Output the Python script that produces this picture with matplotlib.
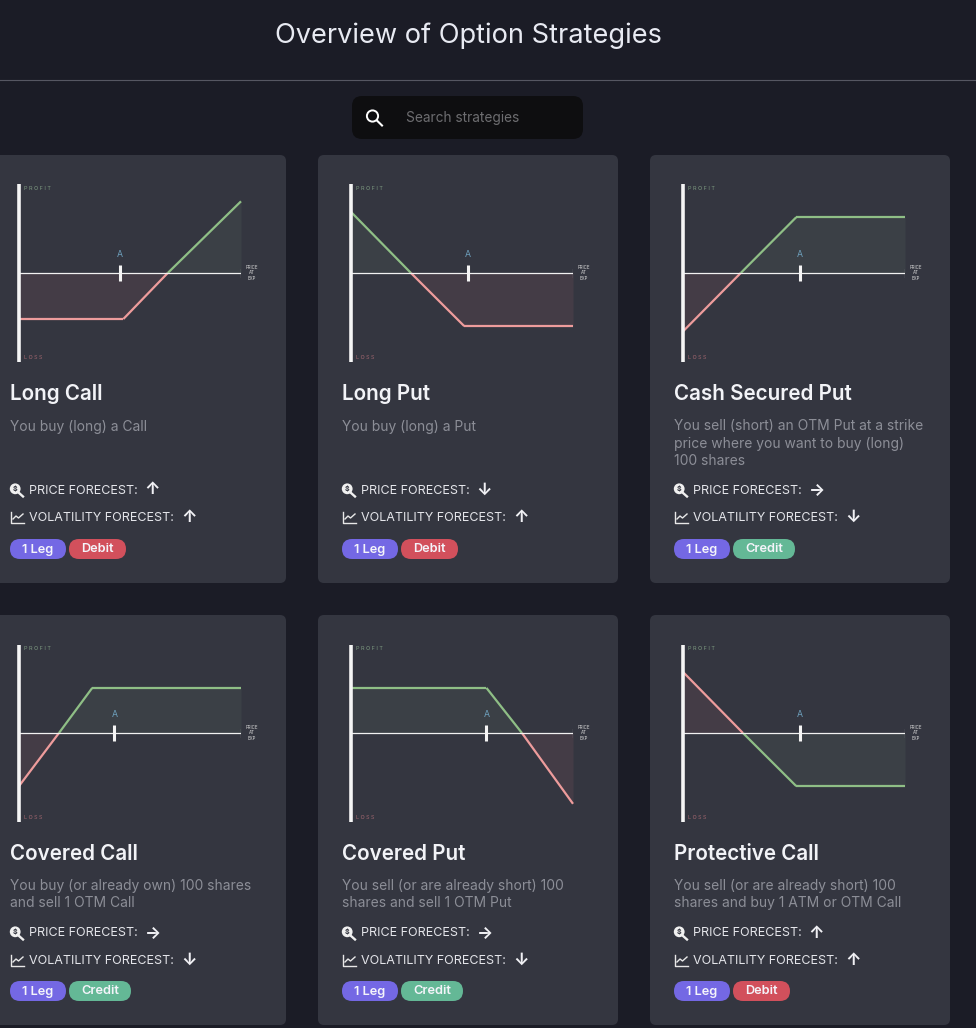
import matplotlib
matplotlib.use("Agg")
import matplotlib.pyplot as plt
from matplotlib.patches import FancyBboxPatch, Circle

W, H = 976, 1028
BG = "#1b1c26"
CARD = "#343640"
FONT = ["Inter", "DejaVu Sans"]

names = ["Long Call", "Long Put", "Cash Secured Put", "Covered Call", "Covered Put", "Protective Call"]
descriptions = [
    "You buy (long) a Call",
    "You buy (long) a Put",
    "You sell (short) an OTM Put at a strike\nprice where you want to buy (long)\n100 shares",
    "You buy (or already own) 100 shares\nand sell 1 OTM Call",
    "You sell (or are already short) 100\nshares and sell 1 OTM Put",
    "You sell (or are already short) 100\nshares and buy 1 ATM or OTM Call",
]
price_forecast = ["↑", "↓", "→", "→", "→", "↑"]
vol_forecast = ["↑", "↑", "↓", "↓", "↓", "↑"]
legs = ["1 Leg"] * 6
kinds = ["Debit", "Debit", "Credit", "Credit", "Credit", "Debit"]

payoff_x = [
    [0, 47, 67, 100],
    [0, 27, 51, 100],
    [0, 26, 51, 100],
    [0, 18, 33, 100],
    [0, 61, 77, 100],
    [0, 27, 51, 100],
]
payoff_y = [
    [-52, -52, 0, 81],
    [69, 0, -60, -60],
    [-66, 0, 63, 63],
    [-60, 0, 51, 51],
    [51, 51, 0, -80],
    [69, 0, -60, -60],
]
strikes = [45.5, 52.7, 52.7, 43, 61, 52.7]
# Protective Call is drawn in the reference with its colours swapped
colours_swapped = [False, False, False, False, False, True]

fig = plt.figure(figsize=(W / 100, H / 100), dpi=100, facecolor=BG)
page = fig.add_axes([0, 0, 1, 1])
page.set_xlim(0, W)
page.set_ylim(H, 0)
page.axis("off")


def label(x, y, s, size, color, weight="normal", ha="left", **kw):
    page.text(x, y + 1.5, s, fontsize=size * 0.72, color=color, weight=weight, ha=ha,
              va="center", family=FONT, **kw)


def rbox(x0, y0, x1, y1, r, color, z=1):
    page.add_patch(FancyBboxPatch((x0 + r, y0 + r), x1 - x0 - 2 * r, y1 - y0 - 2 * r,
                                  boxstyle=f"round,pad={r},rounding_size={r}",
                                  fc=color, ec="none", zorder=z))


# header
label(468, 34.5, "Overview of Option Strategies", 27.2, "#e8eaf2", ha="center")
page.plot([0, W], [79.5, 79.5], color="#565762", lw=0.8)
rbox(352, 96, 583, 139, 10, "#0e0e10")
page.add_patch(Circle((372.5, 116), 5.6, fc="none", ec="white", lw=1.4, zorder=3))
page.plot([376.8, 382], [120.4, 125.5], color="white", lw=1.5, zorder=3)
label(406, 116.5, "Search strategies", 13.7, "#6d6d70")

col_left = [-14, 318, 650]
row_top = [155, 615]
row_bot = [583, 1025]
forecast_y = [(490, 517, 549), (933, 960, 991)]
desc_y = [425, 884.5]

for i in range(6):
    r, c = i // 3, i % 3
    left = col_left[c]
    top = row_top[r]
    rbox(left, top, left + 300, row_bot[r], 6, CARD)
    tx = left + 24

    # payoff diagram
    ax_left = left + 33
    ax_top = top + 29.5
    ax_w, ax_h = 222, 177
    ax = fig.add_axes([ax_left / W, 1 - (ax_top + ax_h) / H, ax_w / W, ax_h / H])
    ax.set_xlim(0, 100)
    ax.set_ylim(-100, 100)
    ax.axis("off")
    ax.patch.set_alpha(0)
    xs, ys = payoff_x[i], payoff_y[i]
    swap = colours_swapped[i]
    line_up, line_dn = ("#ee9c9c", "#8fbf86") if swap else ("#8fbf86", "#ee9c9c")
    fill_up, fill_dn = ("#443c46", "#3b4046") if swap else ("#3b4046", "#443c46")
    ax.fill_between(xs, ys, 0, where=[y >= 0 for y in ys], color=fill_up, lw=0, zorder=1)
    ax.fill_between(xs, ys, 0, where=[y <= 0 for y in ys], color=fill_dn, lw=0, zorder=1)
    for k in range(len(xs) - 1):
        seg_x, seg_y = xs[k:k + 2], ys[k:k + 2]
        ax.plot(seg_x, seg_y, color=line_up if sum(seg_y) > 0 else line_dn, lw=1.6,
                solid_capstyle="butt", zorder=3, clip_on=False)
    ax.axhline(0, color="#f2f2f2", lw=0.9, zorder=4)
    ax.plot([0, 0], [-100, 100], color="#f5f5f5", lw=2.6, zorder=5, solid_capstyle="butt", clip_on=False)
    ax.plot([100, 100], [-5, 5], color="#f2f2f2", lw=0.8, zorder=4)
    ax.plot([strikes[i]] * 2, [-9, 9], color="#f5f5f5", lw=2.2, zorder=5, solid_capstyle="butt")
    ax.text(strikes[i], 21, "A", fontsize=6.3, color="#6fa3c0", ha="center", va="center", family=FONT)
    ax.text(2.3, 95.5, "P R O F I T", fontsize=3.9, color="#7d9a80", va="center", family=FONT)
    ax.text(2.3, -96, "L O S S", fontsize=3.9, color="#a0666f", va="center", family=FONT)
    ax.text(105, 0, "PRICE\nAT\nEXP", fontsize=3.2, color="#d8d8d8", ha="center", va="center",
            linespacing=1.05, family=FONT)

    # title and description
    label(tx, top + 237, names[i], 20.6, "#f2f3f7", weight="semibold")
    for n, line in enumerate(descriptions[i].split("\n")):
        label(tx, desc_y[r] + n * 17.3, line, 13.85, "#8c8e97")

    fy, vy, tag_y = forecast_y[r]
    # magnifier icon
    page.add_patch(Circle((tx + 5.2, fy - 1.2), 5.4, fc="#f0f0f0", ec="none", zorder=3))
    page.plot([tx + 8.5, tx + 13], [fy + 2.5, fy + 6.5], color="#f0f0f0", lw=1.7, zorder=3)
    page.text(tx + 5.2, fy - 1.2, "$", fontsize=5, color=CARD, ha="center", va="center", zorder=4,
              family=FONT, weight="bold")
    label(tx + 19, fy - 1, "PRICE FORECEST:", 12.5, "#e4e5ea")
    label(tx + 134.5, fy - 1.5, price_forecast[i], 17, "#f0f0f4", weight="bold")
    # chart icon
    page.plot([tx + 1, tx + 1, tx + 14], [vy - 5.5, vy + 5.5, vy + 5.5], color="#e8e8e8", lw=1.0, zorder=3)
    page.plot([tx + 3, tx + 6, tx + 8.5, tx + 13], [vy + 2, vy - 1, vy + 1, vy - 3],
              color="#e8e8e8", lw=1.0, zorder=3)
    label(tx + 19, vy - 0.5, "VOLATILITY FORECEST:", 12.5, "#e4e5ea")
    label(tx + 171, vy - 1, vol_forecast[i], 17, "#f0f0f4", weight="bold")

    # tags
    rbox(tx, tag_y - 10, tx + 56, tag_y + 10, 10, "#7468e4", z=2)
    label(tx + 28, tag_y - 1, legs[i], 12.8, "#f4f4fa", weight="semibold", ha="center", zorder=3)
    w = 57 if kinds[i] == "Debit" else 62
    col = "#d2505c" if kinds[i] == "Debit" else "#64b896"
    rbox(tx + 59, tag_y - 10, tx + 59 + w, tag_y + 10, 10, col, z=2)
    label(tx + 59 + w / 2, tag_y - 1, kinds[i], 12.8, "#f4f4fa", weight="semibold", ha="center", zorder=3)

fig.savefig("out.png", dpi=100, facecolor=BG)
